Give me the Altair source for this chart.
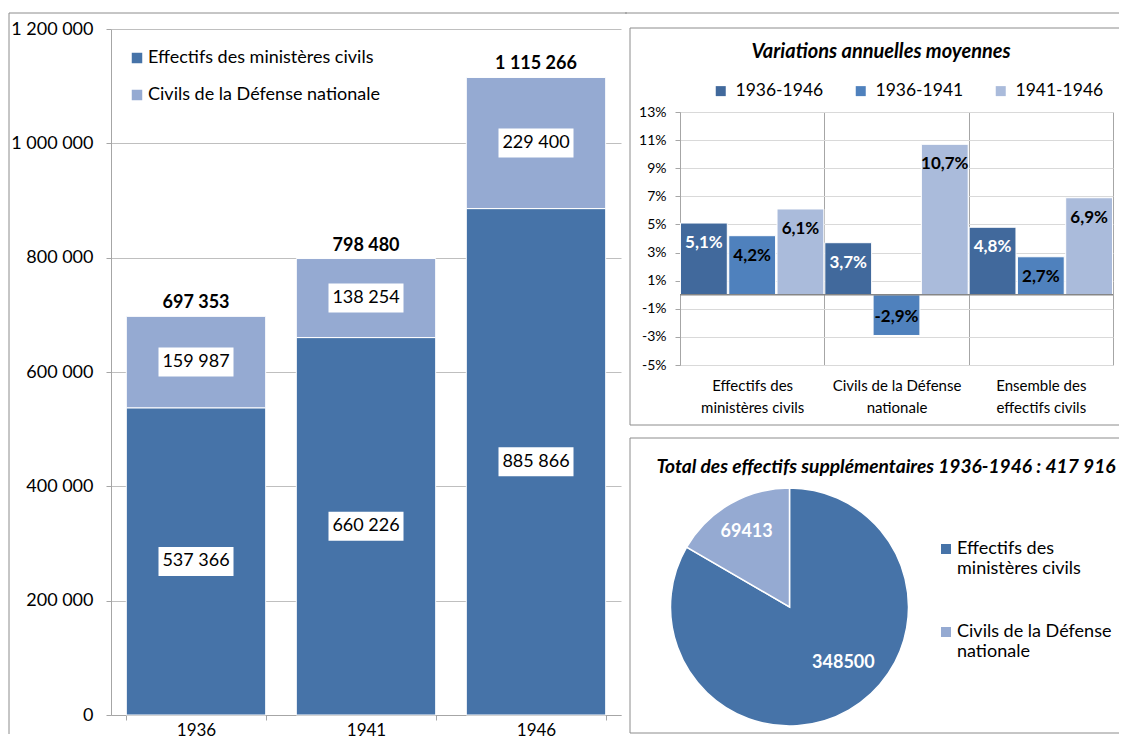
import altair as alt
import pandas as pd

FONT = "Lato"
DARK = "#4673A8"
LIGHT = "#95AAD2"
V_DARK = "#41699C"
V_MED = "#4F81BD"
V_LIGHT = "#AABBDB"
FRAME = "#8C8C8C"
AXIS = "#A6A6A6"

# ---------------- data ----------------
years = ["1936", "1941", "1946"]
ministeres = [537366, 660226, 885866]
defense = [159987, 138254, 229400]
totals = [697353, 798480, 1115266]
left_series = ["Effectifs des ministères civils", "Civils de la Défense nationale"]
left_ticks = [0, 200000, 400000, 600000, 800000, 1000000, 1200000]

var_categories = ["Effectifs des ministères civils", "Civils de la Défense nationale",
                  "Ensemble des effectifs civils"]
var_category_lines = [["Effectifs des", "ministères civils"],
                      ["Civils de la Défense", "nationale"],
                      ["Ensemble des", "effectifs civils"]]
var_periods = ["1936-1946", "1936-1941", "1941-1946"]
var_1936_1946 = [0.051, 0.037, 0.048]
var_1936_1941 = [0.042, -0.029, 0.027]
var_1941_1946 = [0.061, 0.107, 0.069]
var_ticks = [-0.05, -0.03, -0.01, 0.01, 0.03, 0.05, 0.07, 0.09, 0.11, 0.13]
var_title = "Variations annuelles moyennes"

pie_series = ["Effectifs des ministères civils", "Civils de la Défense nationale"]
pie_series_lines = [["Effectifs des", "ministères civils"], ["Civils de la Défense", "nationale"]]
pie_values = [348500, 69413]
pie_title = "Total des effectifs supplémentaires 1936-1946 : 417 916"

BOX_PATH = "M-1,-0.387L1,-0.387L1,0.387L-1,0.387Z"
one_row = pd.DataFrame({"k": [0]})
RIGHT_END = 439  # right end of the panel frame lines, relative to the right-hand views


def lines_expr(names, lines):
    expr = "datum.label"
    for n, l in reversed(list(zip(names, lines))):
        arr = "[" + ", ".join("'" + s + "'" for s in l) + "]"
        expr = "datum.label == '" + n + "' ? " + arr + " : (" + expr + ")"
    return expr


def frame_rule(x, y, x2=None, y2=None, color=FRAME):
    enc = dict(x=alt.value(x), y=alt.value(y))
    if x2 is not None:
        enc["x2"] = alt.value(x2)
    if y2 is not None:
        enc["y2"] = alt.value(y2)
    return alt.Chart(one_row).mark_rule(color=color, strokeWidth=1).encode(**enc)


def title_text(text, x, y, size):
    return alt.Chart(one_row).mark_text(
        font=FONT, fontSize=size, fontStyle="italic", fontWeight="bold", color="black",
        align="center", baseline="middle").encode(
        x=alt.value(x), y=alt.value(y), text=alt.value(text))


# ---------------- left stacked bars ----------------
# view spans page y 111..714; the y range reaches above the view up to page y 28
LEFT_H = 603
df_left = pd.DataFrame({
    "year": years * 2,
    "series": [left_series[0]] * 3 + [left_series[1]] * 3,
    "value": ministeres + defense,
    "order": [0] * 3 + [1] * 3,
})
df_tot = pd.DataFrame({"year": years, "total": totals})

xl = alt.X("year:N", title=None, sort=years,
           scale=alt.Scale(paddingInner=0.18, paddingOuter=0.09),
           axis=alt.Axis(labelAngle=0, tickBand="extent", domainColor=AXIS, tickColor=AXIS,
                         tickSize=5, labelFont=FONT, labelFontSize=17, labelColor="black",
                         labelPadding=2, grid=False))
yaxis_left = alt.Axis(values=left_ticks, labelExpr="format(datum.value, ',')",
                      gridColor="#BFBFBF", domainColor=AXIS,
                      tickColor=AXIS, tickSize=5, labelFont=FONT, labelFontSize=18,
                      labelColor="black", labelPadding=13)
yscale_left = alt.Scale(domain=[0, 1200000], nice=False, range=[LEFT_H, -83])

bars_left = alt.Chart(df_left).mark_bar(stroke="white", strokeWidth=1).encode(
    x=xl,
    y=alt.Y("value:Q", stack="zero", scale=yscale_left, axis=yaxis_left, title=None),
    color=alt.Color("series:N", scale=alt.Scale(domain=left_series, range=[DARK, LIGHT]),
                    legend=alt.Legend(title=None, orient="none", legendX=17, legendY=-63,
                                      symbolType="square", symbolSize=110, symbolStrokeWidth=0,
                                      labelFont=FONT, labelFontSize=18, labelColor="black",
                                      rowPadding=19, labelOffset=2, labelLimit=400)),
    order=alt.Order("order:Q", sort="ascending"),
)

stacked = alt.Chart(df_left).transform_stack(
    stack="value", groupby=["year"], as_=["v0", "v1"],
    sort=[alt.SortField("order", order="ascending")]
).transform_calculate(mid="(datum.v0 + datum.v1) / 2")

boxes = stacked.mark_point(shape=BOX_PATH, size=5625, filled=True, color="white",
                           opacity=1, strokeWidth=0).encode(
    x=xl, y=alt.Y("mid:Q", scale=yscale_left, axis=yaxis_left, title=None))
box_text = stacked.mark_text(font=FONT, fontSize=18, baseline="middle", color="black").encode(
    x=xl, y=alt.Y("mid:Q", scale=yscale_left, axis=yaxis_left, title=None),
    text=alt.Text("value:Q", format=","))
tot_text = alt.Chart(df_tot).mark_text(font=FONT, fontSize=18, fontWeight="bold",
                                       baseline="bottom", dy=-4, color="black").encode(
    x=xl, y=alt.Y("total:Q", scale=yscale_left, axis=yaxis_left, title=None),
    text=alt.Text("total:Q", format=","))

left = alt.layer(
    bars_left, boxes, box_text, tot_text,
    frame_rule(-102, -99, y2=622),
    frame_rule(-102, -99, x2=516),
).properties(width=510, height=LEFT_H)

# ---------------- top right: grouped bars ----------------
rows = []
for i, c in enumerate(var_categories):
    for p, vals in zip(var_periods, [var_1936_1946, var_1936_1941, var_1941_1946]):
        rows.append({"category": c, "period": p, "value": vals[i]})
df_var = pd.DataFrame(rows)

xv = alt.X("category:N", sort=var_categories, title=None,
           scale=alt.Scale(paddingInner=0, paddingOuter=0),
           axis=alt.Axis(tickBand="extent", grid=True, gridColor=AXIS, ticks=False, domain=False,
                         labelExpr=lines_expr(var_categories, var_category_lines),
                         labelFont=FONT, labelFontSize=15, labelColor="black", labelPadding=13,
                         labelLineHeight=22, labelAngle=0))
yv = alt.Y("value:Q", title=None, scale=alt.Scale(domain=[-0.05, 0.13], nice=False, zero=False),
           axis=alt.Axis(values=var_ticks, labelExpr="format(datum.value, '.0%')",
                         gridColor="#D9D9D9", domainColor=AXIS,
                         tickColor=AXIS, tickSize=5, labelFont=FONT, labelFontSize=14,
                         labelColor="black", labelPadding=9))
xo = alt.XOffset("period:N", sort=var_periods, scale=alt.Scale(paddingInner=0.03, paddingOuter=0.01))

bars_var = alt.Chart(df_var).mark_bar(stroke="white", strokeWidth=1).encode(
    x=xv, xOffset=xo, y=yv,
    color=alt.Color("period:N", sort=var_periods,
                    scale=alt.Scale(domain=var_periods, range=[V_DARK, V_MED, V_LIGHT]),
                    legend=alt.Legend(title=None, orient="none", legendX=32, legendY=-30,
                                      direction="horizontal", columns=3, symbolType="square",
                                      symbolSize=100, symbolStrokeWidth=0, labelFont=FONT,
                                      labelFontSize=17.5, labelColor="black", columnPadding=28,
                                      labelOffset=6)),
)
zero_line = alt.Chart(pd.DataFrame({"value": [0.0]})).mark_rule(color="#868686", strokeWidth=1.5).encode(y=yv)
txt_color = alt.condition("datum.period == '1936-1946'", alt.value("white"), alt.value("black"))
lab_pos = alt.Chart(df_var).transform_filter("datum.value >= 0").mark_text(
    font=FONT, fontSize=17, fontWeight="bold", baseline="middle", dy=20).encode(
    x=xv, xOffset=xo, y=yv, text=alt.Text("value:Q", format=".1%"), color=txt_color)
lab_neg = alt.Chart(df_var).transform_filter("datum.value < 0").mark_text(
    font=FONT, fontSize=17, fontWeight="bold", baseline="middle", dy=-18).encode(
    x=xv, xOffset=xo, y=yv, text=alt.Text("value:Q", format=".1%"), color=txt_color)

top_right = alt.layer(
    bars_var, zero_line, lab_pos, lab_neg,
    title_text(var_title, 201, -60, 20),
    frame_rule(-55, -99, x2=RIGHT_END),
    frame_rule(-50, -84, y2=313),
    frame_rule(-50, -84, x2=RIGHT_END),
    frame_rule(-50, 313, x2=RIGHT_END),
).properties(width=433, height=253)

# ---------------- bottom right: pie ----------------
df_pie = pd.DataFrame({"series": pie_series, "value": pie_values, "order": [0, 1]})
pie_order = alt.Order("order:Q", sort="ascending")
arc = alt.Chart(df_pie).mark_arc(outerRadius=119, stroke="white", strokeWidth=1.5).encode(
    theta=alt.Theta("value:Q", stack=True),
    color=alt.Color("series:N", scale=alt.Scale(domain=pie_series, range=[DARK, LIGHT]),
                    legend=alt.Legend(title=None, orient="none", legendX=257, legendY=52,
                                      symbolType="square", symbolSize=100, symbolStrokeWidth=0,
                                      labelFont=FONT, labelFontSize=18, labelColor="black",
                                      labelExpr=lines_expr(pie_series, pie_series_lines),
                                      rowPadding=45, labelOffset=2, labelLimit=400)),
    order=pie_order,
)
pie_lab = alt.Chart(df_pie).transform_window(
    cum="sum(value)", sort=[alt.SortField("order", order="ascending")]
).transform_calculate(mid="datum.cum - datum.value / 2")
pie_txt_small = pie_lab.transform_filter("datum.order == 1").mark_text(
    radius=86, font=FONT, fontSize=18, fontWeight="bold", color="white").encode(
    theta=alt.Theta("mid:Q", stack=None), text=alt.Text("value:Q", format="d"))
pie_txt_big = pie_lab.transform_filter("datum.order == 0").mark_text(
    radius=84, dx=12, dy=-17, font=FONT, fontSize=18, fontWeight="bold", color="white").encode(
    theta=alt.Theta("mid:Q", stack=None), text=alt.Text("value:Q", format="d"))

# pie view: page x 680..899 (shares its left edge with the bar panel), y 487..725
bottom_right = alt.layer(
    arc, pie_txt_big, pie_txt_small,
    title_text(pie_title, 206, -21, 19.2),
    frame_rule(-50, -50, y2=245),
    frame_rule(-50, -50, x2=RIGHT_END),
    frame_rule(-50, 245, x2=RIGHT_END),
).properties(width=219, height=238)

right = alt.vconcat(top_right, bottom_right, spacing=11).resolve_scale(
    color="independent", x="independent", y="independent")

chart = alt.hconcat(left, right, spacing=-4).resolve_scale(
    color="independent", x="independent", y="independent"
).properties(
    padding={"left": 0, "top": 4, "right": 0, "bottom": -3}
).configure(
    locale=alt.Locale(number=alt.NumberLocale(decimal=",", thousands=" ", grouping=[3],
                                              currency=["", " €"], minus="-"))
).configure_view(stroke=None)

chart.save("out.html", embed_options={"renderer": "svg", "actions": False})
